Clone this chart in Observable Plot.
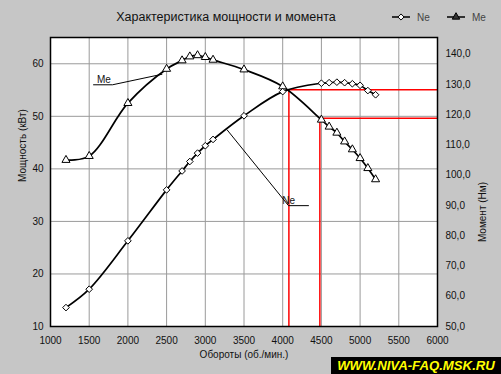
<!DOCTYPE html>
<html>
<head>
<meta charset="utf-8">
<script src="https://cdn.jsdelivr.net/npm/d3@7"></script>
<script src="https://cdn.jsdelivr.net/npm/@observablehq/plot@0.6"></script>
<style>
  body { margin: 0; background: #c6c6c6; }
  #wrap { position: relative; width: 501px; height: 374px; background: #c6c6c6; overflow: hidden;
          font-family: "Liberation Sans", Arial, sans-serif; }
  #chart { position: absolute; left: 0; top: 0; }
  #title { position: absolute; left: 0; top: 10px; width: 452px; text-align: center;
           font-size: 12.5px; color: #111; }
  #legend { position: absolute; left: 385px; top: 8px; }
  #wm { position: absolute; left: 331px; top: 357px; width: 170px; height: 17px; background: #000;
        color: #ffff00; font-weight: bold; font-style: italic; font-size: 13.2px; line-height: 17px;
        text-align: center; white-space: nowrap; }
</style>
</head>
<body>
<div id="wrap">
  <div id="chart"></div>
  <div id="title">Характеристика мощности и момента</div>
  <div id="legend"></div>
  <div id="wm">WWW.NIVA-FAQ.MSK.RU</div>
</div>
<script>
// ---- data ----
const rpm = [1200, 1500, 2000, 2500, 2700, 2800, 2900, 3000, 3100, 3500, 4000, 4500, 4600, 4700, 4800, 4900, 5000, 5100, 5200];
const ne  = [13.6, 17.1, 26.3, 36.0, 39.6, 41.4, 43.0, 44.4, 45.6, 50.1, 54.7, 56.3, 56.4, 56.5, 56.4, 56.2, 55.9, 54.9, 54.1]; // kW
const me  = [105.0, 106.3, 123.8, 135.1, 137.9, 139.2, 139.6, 139.0, 138.1, 134.9, 129.3, 118.3, 116.0, 114.0, 111.1, 108.5, 105.6, 102.3, 98.6]; // Nm

const rpmTicks = [1000, 1500, 2000, 2500, 3000, 3500, 4000, 4500, 5000, 5500, 6000];
const powerTicks = [10, 20, 30, 40, 50, 60];
const torqueTicks = [50, 60, 70, 80, 90, 100, 110, 120, 130, 140];
const rpmDomain = [1000, 6000];
const powerDomain = [10, 65];
const torqueDomain = [50, 145.5];

// red reference lines (rpm, torque Nm)
const refRpm = [4080, 4480];
const refNm = [128.2, 118.8];

// annotation leaders (rpm, kW)
const meLeaderRpm = [1556, 1801, 2440];
const meLeaderKw = [56.0, 56.0, 58.0];
const neLeaderRpm = [3283, 4075, 4333];
const neLeaderKw = [47.4, 33.0, 33.0];
const labelNames = ["Me", "Ne"];
const labelRpm = [1600, 3995];
const labelKw = [56.4, 33.4];

const seriesNames = ["Ne", "Me"];
const titleText = "Характеристика мощности и момента";
const xLabel = "Обороты (об./мин.)";
const yLabel = "Мощность (кВт)";
const y2Label = "Момент (Нм)";

// ---- build ----
const toKW = nm => powerDomain[0] + (nm - torqueDomain[0]) * (powerDomain[1] - powerDomain[0]) / (torqueDomain[1] - torqueDomain[0]);
const fromKW = kw => torqueDomain[0] + (kw - powerDomain[0]) * (torqueDomain[1] - torqueDomain[0]) / (powerDomain[1] - powerDomain[0]);

const neData = rpm.map((r, i) => ({rpm: r, kw: ne[i]}));
const meData = rpm.map((r, i) => ({rpm: r, kw: toKW(me[i])}));
const refs = refRpm.map((r, i) => ({rpm: r, kw: toKW(refNm[i])}));
const meLeader = meLeaderRpm.map((r, i) => ({rpm: r, kw: meLeaderKw[i]}));
const neLeader = neLeaderRpm.map((r, i) => ({rpm: r, kw: neLeaderKw[i]}));
const labels = labelNames.map((t, i) => ({t, rpm: labelRpm[i], kw: labelKw[i]}));

const font = "Liberation Sans, Arial, sans-serif";

const chart = Plot.plot({
  width: 501, height: 374,
  marginLeft: 50, marginRight: 64, marginTop: 37, marginBottom: 48,
  style: {background: "transparent", fontFamily: font, fontSize: "10px", color: "#111", overflow: "visible"},
  x: {domain: rpmDomain},
  y: {domain: powerDomain},
  marks: [
    Plot.frame({fill: "white", stroke: "none"}),
    Plot.gridX(rpmTicks.slice(1, -1), {stroke: "#9a9a9a", strokeOpacity: 1}),
    Plot.gridY(powerTicks.slice(1), {stroke: "#9a9a9a", strokeOpacity: 1}),
    Plot.ruleX(refs, {x: "rpm", y1: () => powerDomain[0], y2: "kw", stroke: "red", strokeWidth: 1.5}),
    Plot.ruleY(refs, {y: "kw", x1: "rpm", x2: () => rpmDomain[1], stroke: "red", strokeWidth: 1.5}),
    Plot.line(meLeader, {x: "rpm", y: "kw", stroke: "black", strokeWidth: 1}),
    Plot.line(neLeader, {x: "rpm", y: "kw", stroke: "black", strokeWidth: 1}),
    Plot.line(meData, {x: "rpm", y: "kw", curve: "catmull-rom", stroke: "black", strokeWidth: 1.7}),
    Plot.line(neData, {x: "rpm", y: "kw", curve: "catmull-rom", stroke: "black", strokeWidth: 1.7}),
    Plot.dot(meData, {x: "rpm", y: "kw", symbol: "triangle", r: 3, fill: "white", stroke: "black", strokeWidth: 1}),
    Plot.dot(neData, {x: "rpm", y: "kw", symbol: "diamond2", r: 3, fill: "white", stroke: "black", strokeWidth: 1}),
    Plot.text(labels, {x: "rpm", y: "kw", text: "t", textAnchor: "start", lineAnchor: "bottom", fontSize: 10, fill: "#111"}),
    Plot.axisY(powerTicks, {anchor: "left", tickSize: 0, tickPadding: 7, label: null, tickFormat: d => `${d}`}),
    Plot.axisY(torqueTicks.map(toKW), {anchor: "right", tickSize: 0, tickPadding: 8, label: null,
      tickFormat: d => Math.round(fromKW(d)).toFixed(1).replace(".", ",")}),
    Plot.axisX(rpmTicks, {anchor: "bottom", tickSize: 0, tickPadding: 10, label: null, tickFormat: d => `${d}`}),
    Plot.text([yLabel], {frameAnchor: "left", dx: -28, rotate: -90, fontSize: 10, fill: "#111"}),
    Plot.text([y2Label], {frameAnchor: "right", dx: 45, rotate: -90, fontSize: 10, fill: "#111"}),
    Plot.text([xLabel], {frameAnchor: "bottom", dy: 31, fontSize: 10, fill: "#111"}),
    Plot.frame({stroke: "black", strokeWidth: 1.5, fill: "none"})
  ]
});
document.getElementById("chart").appendChild(chart);
document.getElementById("title").textContent = titleText;

// legend
const lg = d3.select("#legend").append("svg").attr("width", 116).attr("height", 20)
  .style("font-family", font).style("font-size", "10px");
const items = [
  {name: seriesNames[0], x: 7, sym: d3.symbolDiamond2},
  {name: seriesNames[1], x: 62, sym: d3.symbolTriangle}
];
items.forEach(it => {
  lg.append("line").attr("x1", it.x).attr("x2", it.x + 18).attr("y1", 9).attr("y2", 9)
    .attr("stroke", "black").attr("stroke-width", 1.5);
  lg.append("path").attr("d", d3.symbol(it.sym, 24)()).attr("transform", `translate(${it.x + 9},9)`)
    .attr("fill", it.name === "Ne" ? "white" : "#333").attr("stroke", "black");
  lg.append("text").attr("x", it.x + 25).attr("y", 13).attr("fill", "#444").text(it.name);
});
</script>
</body>
</html>
